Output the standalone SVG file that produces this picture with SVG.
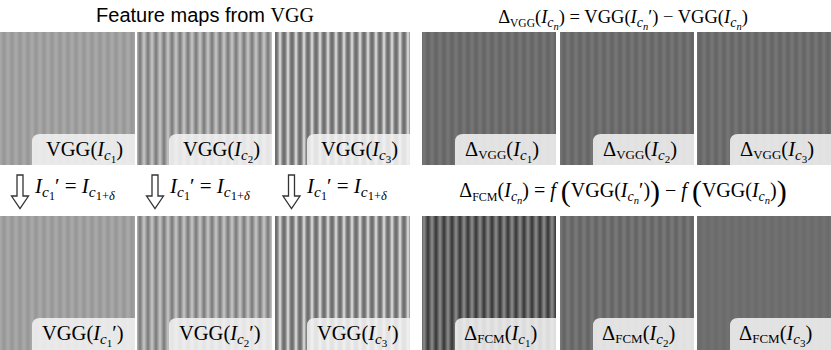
<svg xmlns="http://www.w3.org/2000/svg" width="831" height="350" viewBox="0 0 831 350">
<style>
.sans{font-family:"Liberation Sans",Arial,sans-serif;}
.m{font-family:"Liberation Serif","DejaVu Serif",serif;fill:#000;}
.it{font-style:italic;}
.box{fill:#f2f2f2;fill-opacity:0.88;}
.arrow{fill:#fff;stroke:#333;stroke-width:1.3;stroke-linejoin:miter;}
.lab{font-size:20.5px;}
</style>
<defs>
<linearGradient id="ga" x1="0" x2="1" y1="0" y2="0"><stop offset="0" stop-color="#ababab"/><stop offset="0.5" stop-color="#959595"/><stop offset="1" stop-color="#ababab"/></linearGradient>
<linearGradient id="gb" x1="0" x2="1" y1="0" y2="0"><stop offset="0" stop-color="#c8c8c8"/><stop offset="0.5" stop-color="#777"/><stop offset="1" stop-color="#c8c8c8"/></linearGradient>
<linearGradient id="gc" x1="0" x2="1" y1="0" y2="0"><stop offset="0" stop-color="#e6e6e6"/><stop offset="0.25" stop-color="#8c8c8c"/><stop offset="0.5" stop-color="#666"/><stop offset="0.75" stop-color="#8c8c8c"/><stop offset="1" stop-color="#e6e6e6"/></linearGradient>
<linearGradient id="gd" x1="0" x2="1" y1="0" y2="0"><stop offset="0" stop-color="#777"/><stop offset="0.5" stop-color="#636363"/><stop offset="1" stop-color="#777"/></linearGradient>
<linearGradient id="ge" x1="0" x2="1" y1="0" y2="0"><stop offset="0" stop-color="#8e8e8e"/><stop offset="0.5" stop-color="#343434"/><stop offset="1" stop-color="#8e8e8e"/></linearGradient>
<linearGradient id="gf" x1="0" x2="1" y1="0" y2="0"><stop offset="0" stop-color="#7a7a7a"/><stop offset="0.5" stop-color="#626262"/><stop offset="1" stop-color="#7a7a7a"/></linearGradient>
<linearGradient id="gg" x1="0" x2="1" y1="0" y2="0"><stop offset="0" stop-color="#727272"/><stop offset="0.5" stop-color="#6a6a6a"/><stop offset="1" stop-color="#727272"/></linearGradient>
<pattern id="pa" patternUnits="userSpaceOnUse" width="8" height="10"><rect width="8" height="10" fill="url(#ga)"/></pattern>
<pattern id="pb" patternUnits="userSpaceOnUse" width="8" height="10"><rect width="8" height="10" fill="url(#gb)"/></pattern>
<pattern id="pc" patternUnits="userSpaceOnUse" width="8" height="10"><rect width="8" height="10" fill="url(#gc)"/></pattern>
<pattern id="pd" patternUnits="userSpaceOnUse" width="8" height="10"><rect width="8" height="10" fill="url(#gd)"/></pattern>
<pattern id="pe" patternUnits="userSpaceOnUse" width="8" height="10"><rect width="8" height="10" fill="url(#ge)"/></pattern>
<pattern id="pf" patternUnits="userSpaceOnUse" width="8" height="10"><rect width="8" height="10" fill="url(#gf)"/></pattern>
<pattern id="pg" patternUnits="userSpaceOnUse" width="8" height="10"><rect width="8" height="10" fill="url(#gg)"/></pattern>
</defs>
<rect width="831" height="350" fill="#fff"/>

<g id="title-left">
<text x="205" y="22" text-anchor="middle" font-size="20"><tspan class="sans">Feature maps from </tspan><tspan class="m">VGG</tspan></text>
</g>
<g id="title-right">
<text class="m" x="623" y="23" text-anchor="middle" font-size="18.5">Δ<tspan font-size="11.5" dy="4">VGG</tspan><tspan dy="-4">(</tspan><tspan class="it">I</tspan><tspan class="it" font-size="14" dy="4">c</tspan><tspan class="it" font-size="10.5" dy="3">n</tspan><tspan dy="-7">) = VGG(</tspan><tspan class="it">I</tspan><tspan class="it" font-size="14" dy="4">c</tspan><tspan class="it" font-size="10.5" dy="3">n</tspan><tspan dy="-7">′) − VGG(</tspan><tspan class="it">I</tspan><tspan class="it" font-size="14" dy="4">c</tspan><tspan class="it" font-size="10.5" dy="3">n</tspan><tspan dy="-7">)</tspan></text>
</g>

<!-- top-left row -->
<g id="vgg1">
<rect x="0" y="32" width="135" height="133" fill="url(#pa)"/>
<path class="box" d="M40,134 H135 V165 H32 V142 Q32,134 40,134 Z"/>
<text class="m lab" x="46" y="156">VGG(<tspan class="it">I</tspan><tspan class="it" font-size="15" dy="4">c</tspan><tspan font-size="11" dy="3">1</tspan><tspan dy="-7">)</tspan></text>
</g>
<g id="vgg2">
<rect x="137" y="32" width="135" height="133" fill="url(#pb)"/>
<path class="box" d="M177,134 H272 V165 H169 V142 Q169,134 177,134 Z"/>
<text class="m lab" x="183" y="156">VGG(<tspan class="it">I</tspan><tspan class="it" font-size="15" dy="4">c</tspan><tspan font-size="11" dy="3">2</tspan><tspan dy="-7">)</tspan></text>
</g>
<g id="vgg3">
<rect x="275" y="32" width="135" height="133" fill="url(#pc)"/>
<path class="box" d="M315,134 H410 V165 H307 V142 Q307,134 315,134 Z"/>
<text class="m lab" x="321" y="156">VGG(<tspan class="it">I</tspan><tspan class="it" font-size="15" dy="4">c</tspan><tspan font-size="11" dy="3">3</tspan><tspan dy="-7">)</tspan></text>
</g>

<!-- bottom-left row -->
<g id="vgg1p">
<rect x="0" y="216" width="135" height="134" fill="url(#pa)"/>
<path class="box" d="M40,318 H135 V350 H32 V326 Q32,318 40,318 Z"/>
<text class="m lab" x="42" y="340">VGG(<tspan class="it">I</tspan><tspan class="it" font-size="15" dy="4">c</tspan><tspan font-size="11" dy="3">1</tspan><tspan dy="-7">′)</tspan></text>
</g>
<g id="vgg2p">
<rect x="137" y="216" width="135" height="134" fill="url(#pb)"/>
<path class="box" d="M177,318 H272 V350 H169 V326 Q169,318 177,318 Z"/>
<text class="m lab" x="179" y="340">VGG(<tspan class="it">I</tspan><tspan class="it" font-size="15" dy="4">c</tspan><tspan font-size="11" dy="3">2</tspan><tspan dy="-7">′)</tspan></text>
</g>
<g id="vgg3p">
<rect x="275" y="216" width="135" height="134" fill="url(#pc)"/>
<path class="box" d="M315,318 H410 V350 H307 V326 Q307,318 315,318 Z"/>
<text class="m lab" x="317" y="340">VGG(<tspan class="it">I</tspan><tspan class="it" font-size="15" dy="4">c</tspan><tspan font-size="11" dy="3">3</tspan><tspan dy="-7">′)</tspan></text>
</g>

<!-- top-right row -->
<g id="dvgg1">
<rect x="422" y="32" width="134" height="133" fill="url(#pd)"/>
<path class="box" d="M463,134 H556 V165 H455 V142 Q455,134 463,134 Z"/>
<text class="m lab" x="465" y="156">Δ<tspan font-size="13" dy="3">VGG</tspan><tspan dy="-3">(</tspan><tspan class="it">I</tspan><tspan class="it" font-size="15" dy="4">c</tspan><tspan font-size="11" dy="3">1</tspan><tspan dy="-7">)</tspan></text>
</g>
<g id="dvgg2">
<rect x="560" y="32" width="134" height="133" fill="url(#pd)"/>
<path class="box" d="M601,134 H694 V165 H593 V142 Q593,134 601,134 Z"/>
<text class="m lab" x="603" y="156">Δ<tspan font-size="13" dy="3">VGG</tspan><tspan dy="-3">(</tspan><tspan class="it">I</tspan><tspan class="it" font-size="15" dy="4">c</tspan><tspan font-size="11" dy="3">2</tspan><tspan dy="-7">)</tspan></text>
</g>
<g id="dvgg3">
<rect x="697" y="32" width="134" height="133" fill="url(#pd)"/>
<path class="box" d="M738,134 H831 V165 H730 V142 Q730,134 738,134 Z"/>
<text class="m lab" x="740" y="156">Δ<tspan font-size="13" dy="3">VGG</tspan><tspan dy="-3">(</tspan><tspan class="it">I</tspan><tspan class="it" font-size="15" dy="4">c</tspan><tspan font-size="11" dy="3">3</tspan><tspan dy="-7">)</tspan></text>
</g>

<!-- FCM formula -->
<g id="fcm-formula">
<text class="m" x="623" y="197" text-anchor="middle" font-size="20">Δ<tspan font-size="12" dy="4">FCM</tspan><tspan dy="-4">(</tspan><tspan class="it">I</tspan><tspan class="it" font-size="14" dy="4">c</tspan><tspan class="it" font-size="10.5" dy="3">n</tspan><tspan dy="-7">) = </tspan><tspan class="it">f</tspan><tspan> </tspan><tspan font-size="30" dy="4">(</tspan><tspan dy="-4">VGG(</tspan><tspan class="it">I</tspan><tspan class="it" font-size="14" dy="4">c</tspan><tspan class="it" font-size="10.5" dy="3">n</tspan><tspan dy="-7">′)</tspan><tspan font-size="30" dy="4">)</tspan><tspan dy="-4"> − </tspan><tspan class="it">f</tspan><tspan> </tspan><tspan font-size="30" dy="4">(</tspan><tspan dy="-4">VGG(</tspan><tspan class="it">I</tspan><tspan class="it" font-size="14" dy="4">c</tspan><tspan class="it" font-size="10.5" dy="3">n</tspan><tspan dy="-7">)</tspan><tspan font-size="30" dy="4">)</tspan></text>
</g>

<!-- bottom-right row -->
<g id="dfcm1">
<rect x="422" y="216" width="134" height="134" fill="url(#pe)"/>
<path class="box" d="M463,318 H556 V350 H455 V326 Q455,318 463,318 Z"/>
<text class="m lab" x="464" y="340">Δ<tspan font-size="13" dy="3">FCM</tspan><tspan dy="-3">(</tspan><tspan class="it">I</tspan><tspan class="it" font-size="15" dy="4">c</tspan><tspan font-size="11" dy="3">1</tspan><tspan dy="-7">)</tspan></text>
</g>
<g id="dfcm2">
<rect x="560" y="216" width="134" height="134" fill="url(#pf)"/>
<path class="box" d="M601,318 H694 V350 H593 V326 Q593,318 601,318 Z"/>
<text class="m lab" x="602" y="340">Δ<tspan font-size="13" dy="3">FCM</tspan><tspan dy="-3">(</tspan><tspan class="it">I</tspan><tspan class="it" font-size="15" dy="4">c</tspan><tspan font-size="11" dy="3">2</tspan><tspan dy="-7">)</tspan></text>
</g>
<g id="dfcm3">
<rect x="697" y="216" width="134" height="134" fill="url(#pg)"/>
<path class="box" d="M738,318 H831 V350 H730 V326 Q730,318 738,318 Z"/>
<text class="m lab" x="739" y="340">Δ<tspan font-size="13" dy="3">FCM</tspan><tspan dy="-3">(</tspan><tspan class="it">I</tspan><tspan class="it" font-size="15" dy="4">c</tspan><tspan font-size="11" dy="3">3</tspan><tspan dy="-7">)</tspan></text>
</g>

<!-- connectors: hollow down arrows with labels -->
<g id="connectors">
<path class="arrow" d="M17,175 H23 V196 H28.5 L20,208.5 L11.5,196 H17 Z"/>
<path class="arrow" d="M152,175 H158 V196 H163.5 L155,208.5 L146.5,196 H152 Z"/>
<path class="arrow" d="M288.5,175 H294.5 V196 H300 L291.5,208.5 L283,196 H288.5 Z"/>
<text class="m" x="35" y="193" font-size="21"><tspan class="it">I</tspan><tspan class="it" font-size="15.5" dy="4">c</tspan><tspan font-size="12" dy="3">1</tspan><tspan dy="-7">′ = </tspan><tspan class="it">I</tspan><tspan class="it" font-size="15.5" dy="4">c</tspan><tspan font-size="12.5" dy="3">1+</tspan><tspan class="it" font-size="12.5">δ</tspan></text>
<text class="m" x="170" y="193" font-size="21"><tspan class="it">I</tspan><tspan class="it" font-size="15.5" dy="4">c</tspan><tspan font-size="12" dy="3">1</tspan><tspan dy="-7">′ = </tspan><tspan class="it">I</tspan><tspan class="it" font-size="15.5" dy="4">c</tspan><tspan font-size="12.5" dy="3">1+</tspan><tspan class="it" font-size="12.5">δ</tspan></text>
<text class="m" x="307" y="193" font-size="21"><tspan class="it">I</tspan><tspan class="it" font-size="15.5" dy="4">c</tspan><tspan font-size="12" dy="3">1</tspan><tspan dy="-7">′ = </tspan><tspan class="it">I</tspan><tspan class="it" font-size="15.5" dy="4">c</tspan><tspan font-size="12.5" dy="3">1+</tspan><tspan class="it" font-size="12.5">δ</tspan></text>
</g>
</svg>
